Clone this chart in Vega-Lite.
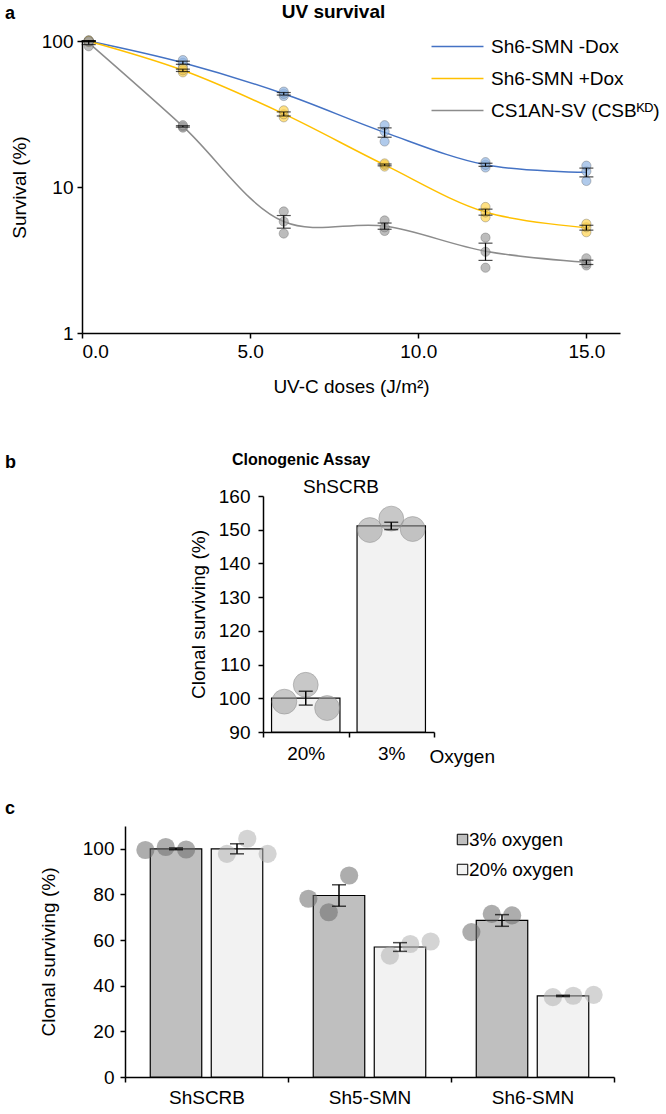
{
  "$schema": "https://vega.github.io/schema/vega-lite/v6.json",
  "padding": {"left": 5, "top": 3, "right": 0, "bottom": 0},
  "background": "white",
  "config": {
    "font": "Liberation Sans",
    "view": {"stroke": null},
    "axis": {"domainColor": "black", "domainWidth": 1.5, "tickColor": "black", "tickWidth": 1.5, "tickSize": 5, "labelColor": "black", "titleColor": "black", "labelFont": "Liberation Sans", "titleFont": "Liberation Sans", "titleFontWeight": "normal", "grid": false, "labelFontSize": 19, "titleFontSize": 19, "labelOverlap": false},
    "legend": {"labelFont": "Liberation Sans", "labelColor": "black"},
    "title": {"font": "Liberation Sans", "color": "black"}
  },
  "datasets": {
    "uv": [
      {"series": "Sh6-SMN -Dox", "dose": 0.2, "value": 99},
      {"series": "Sh6-SMN -Dox", "dose": 0.2, "value": 100},
      {"series": "Sh6-SMN -Dox", "dose": 0.2, "value": 101},
      {"series": "Sh6-SMN -Dox", "dose": 3, "value": 68},
      {"series": "Sh6-SMN -Dox", "dose": 3, "value": 71},
      {"series": "Sh6-SMN -Dox", "dose": 3, "value": 74},
      {"series": "Sh6-SMN -Dox", "dose": 6, "value": 42},
      {"series": "Sh6-SMN -Dox", "dose": 6, "value": 43.5},
      {"series": "Sh6-SMN -Dox", "dose": 6, "value": 45},
      {"series": "Sh6-SMN -Dox", "dose": 9, "value": 20.5},
      {"series": "Sh6-SMN -Dox", "dose": 9, "value": 24},
      {"series": "Sh6-SMN -Dox", "dose": 9, "value": 26.5},
      {"series": "Sh6-SMN -Dox", "dose": 12, "value": 13.6},
      {"series": "Sh6-SMN -Dox", "dose": 12, "value": 14.2},
      {"series": "Sh6-SMN -Dox", "dose": 12, "value": 14.8},
      {"series": "Sh6-SMN -Dox", "dose": 15, "value": 11.0},
      {"series": "Sh6-SMN -Dox", "dose": 15, "value": 12.8},
      {"series": "Sh6-SMN -Dox", "dose": 15, "value": 14.0},
      {"series": "Sh6-SMN +Dox", "dose": 0.2, "value": 98},
      {"series": "Sh6-SMN +Dox", "dose": 0.2, "value": 100},
      {"series": "Sh6-SMN +Dox", "dose": 0.2, "value": 101},
      {"series": "Sh6-SMN +Dox", "dose": 3, "value": 61},
      {"series": "Sh6-SMN +Dox", "dose": 3, "value": 63},
      {"series": "Sh6-SMN +Dox", "dose": 3, "value": 65},
      {"series": "Sh6-SMN +Dox", "dose": 6, "value": 30},
      {"series": "Sh6-SMN +Dox", "dose": 6, "value": 31.5},
      {"series": "Sh6-SMN +Dox", "dose": 6, "value": 33.5},
      {"series": "Sh6-SMN +Dox", "dose": 9, "value": 13.8},
      {"series": "Sh6-SMN +Dox", "dose": 9, "value": 14.2},
      {"series": "Sh6-SMN +Dox", "dose": 9, "value": 14.5},
      {"series": "Sh6-SMN +Dox", "dose": 12, "value": 6.2},
      {"series": "Sh6-SMN +Dox", "dose": 12, "value": 6.7},
      {"series": "Sh6-SMN +Dox", "dose": 12, "value": 7.3},
      {"series": "Sh6-SMN +Dox", "dose": 15, "value": 4.9},
      {"series": "Sh6-SMN +Dox", "dose": 15, "value": 5.3},
      {"series": "Sh6-SMN +Dox", "dose": 15, "value": 5.6},
      {"series": "CS1AN-SV (CSBᴷᴰ)", "dose": 0.2, "value": 92},
      {"series": "CS1AN-SV (CSBᴷᴰ)", "dose": 0.2, "value": 99},
      {"series": "CS1AN-SV (CSBᴷᴰ)", "dose": 0.2, "value": 100},
      {"series": "CS1AN-SV (CSBᴷᴰ)", "dose": 3, "value": 25.5},
      {"series": "CS1AN-SV (CSBᴷᴰ)", "dose": 3, "value": 26},
      {"series": "CS1AN-SV (CSBᴷᴰ)", "dose": 3, "value": 26.5},
      {"series": "CS1AN-SV (CSBᴷᴰ)", "dose": 6, "value": 4.8},
      {"series": "CS1AN-SV (CSBᴷᴰ)", "dose": 6, "value": 5.8},
      {"series": "CS1AN-SV (CSBᴷᴰ)", "dose": 6, "value": 6.8},
      {"series": "CS1AN-SV (CSBᴷᴰ)", "dose": 9, "value": 5.0},
      {"series": "CS1AN-SV (CSBᴷᴰ)", "dose": 9, "value": 5.3},
      {"series": "CS1AN-SV (CSBᴷᴰ)", "dose": 9, "value": 5.9},
      {"series": "CS1AN-SV (CSBᴷᴰ)", "dose": 12, "value": 2.8},
      {"series": "CS1AN-SV (CSBᴷᴰ)", "dose": 12, "value": 3.6},
      {"series": "CS1AN-SV (CSBᴷᴰ)", "dose": 12, "value": 4.5},
      {"series": "CS1AN-SV (CSBᴷᴰ)", "dose": 15, "value": 2.9},
      {"series": "CS1AN-SV (CSBᴷᴰ)", "dose": 15, "value": 3.0},
      {"series": "CS1AN-SV (CSBᴷᴰ)", "dose": 15, "value": 3.25}
    ],
    "clono": [
      {"oxygen": "20%", "rep": "1", "value": 99.0},
      {"oxygen": "20%", "rep": "2", "value": 104.0},
      {"oxygen": "20%", "rep": "3", "value": 97.1},
      {"oxygen": "3%", "rep": "1", "value": 149.9},
      {"oxygen": "3%", "rep": "2", "value": 153.3},
      {"oxygen": "3%", "rep": "3", "value": 150.2}
    ],
    "groups": [
      {"group": "ShSCRB", "oxygen": "3%", "slot": "3%-1", "value": 99.5},
      {"group": "ShSCRB", "oxygen": "3%", "slot": "3%-2", "value": 100.8},
      {"group": "ShSCRB", "oxygen": "3%", "slot": "3%-3", "value": 99.7},
      {"group": "ShSCRB", "oxygen": "20%", "slot": "20%-1", "value": 97.8},
      {"group": "ShSCRB", "oxygen": "20%", "slot": "20%-2", "value": 104.4},
      {"group": "ShSCRB", "oxygen": "20%", "slot": "20%-3", "value": 97.8},
      {"group": "Sh5-SMN", "oxygen": "3%", "slot": "3%-1", "value": 78.1},
      {"group": "Sh5-SMN", "oxygen": "3%", "slot": "3%-2", "value": 72.2},
      {"group": "Sh5-SMN", "oxygen": "3%", "slot": "3%-3", "value": 88.3},
      {"group": "Sh5-SMN", "oxygen": "20%", "slot": "20%-1", "value": 53.2},
      {"group": "Sh5-SMN", "oxygen": "20%", "slot": "20%-2", "value": 58.3},
      {"group": "Sh5-SMN", "oxygen": "20%", "slot": "20%-3", "value": 59.4},
      {"group": "Sh6-SMN", "oxygen": "3%", "slot": "3%-1", "value": 63.5},
      {"group": "Sh6-SMN", "oxygen": "3%", "slot": "3%-2", "value": 71.5},
      {"group": "Sh6-SMN", "oxygen": "3%", "slot": "3%-3", "value": 70.8},
      {"group": "Sh6-SMN", "oxygen": "20%", "slot": "20%-1", "value": 35.0},
      {"group": "Sh6-SMN", "oxygen": "20%", "slot": "20%-2", "value": 35.6},
      {"group": "Sh6-SMN", "oxygen": "20%", "slot": "20%-3", "value": 36.0}
    ]
  },
  "spacing": 56,
  "resolve": {"scale": {"color": "independent", "fill": "independent", "xOffset": "independent"}, "legend": {"color": "independent", "fill": "independent"}},
  "vconcat": [
    {
      "title": {"text": "a", "anchor": "start", "frame": "bounds", "fontSize": 18, "fontWeight": "bold", "offset": 0, "dy": 20},
      "vconcat": [
        {
          "width": 615,
          "height": 292,
          "title": {"text": "UV survival", "fontSize": 19, "fontWeight": "bold", "anchor": "middle", "dx": 21, "offset": 10},
          "data": {"name": "uv"},
          "layer": [
            {
              "mark": {"type": "line", "interpolate": "catmull-rom", "strokeWidth": 1.5},
              "encoding": {
                "x": {"field": "dose", "type": "quantitative", "title": "UV-C doses (J/m²)", "scale": {"domain": [0, 16], "range": [77, 615], "nice": false}, "axis": {"values": [0, 5, 10, 15], "format": ".1f", "labelPadding": 4, "titlePadding": 16}},
                "y": {"aggregate": "mean", "field": "value", "type": "quantitative", "title": "Survival (%)", "scale": {"type": "log", "domain": [1, 100]}, "axis": {"values": [1, 10, 100], "format": "d", "offset": -77, "labelPadding": 4, "titlePadding": 12}},
                "color": {"field": "series", "type": "nominal", "scale": {"domain": ["Sh6-SMN -Dox", "Sh6-SMN +Dox", "CS1AN-SV (CSBᴷᴰ)"], "range": ["#4472C4", "#FFC000", "#8C8C8C"]}, "legend": {"title": null, "orient": "none", "legendX": 443, "legendY": -4, "symbolType": "M-3,0H3", "symbolSize": 300, "symbolStrokeWidth": 1.5, "labelFontSize": 19, "labelOffset": 24, "rowPadding": 12, "padding": 0, "labelLimit": 300}}
              }
            },
            {
              "mark": {"type": "circle", "size": 85, "fillOpacity": 0.7, "stroke": "#555555", "strokeWidth": 0.7, "strokeOpacity": 0.5},
              "encoding": {
                "x": {"field": "dose", "type": "quantitative", "title": "UV-C doses (J/m²)"},
                "y": {"field": "value", "type": "quantitative", "title": "Survival (%)"},
                "fill": {"field": "series", "type": "nominal", "scale": {"domain": ["Sh6-SMN -Dox", "Sh6-SMN +Dox", "CS1AN-SV (CSBᴷᴰ)"], "range": ["#8FB4E3", "#FFD34D", "#A0A0A0"]}, "legend": null}
              }
            },
            {
              "mark": {"type": "errorbar", "extent": "stderr", "orient": "vertical", "color": "black", "thickness": 1.2, "ticks": {"size": 14, "thickness": 1.2, "color": "black"}},
              "encoding": {
                "x": {"field": "dose", "type": "quantitative", "title": "UV-C doses (J/m²)"},
                "y": {"field": "value", "type": "quantitative", "title": "Survival (%)"},
                "detail": {"field": "series", "type": "nominal"}
              }
            }
          ]
        }
      ]
    },
    {
      "spacing": 34,
      "resolve": {"scale": {"color": "independent", "fill": "independent", "xOffset": "independent"}, "legend": {"color": "independent", "fill": "independent"}},
      "vconcat": [
        {
          "title": {"text": "b", "anchor": "start", "frame": "bounds", "fontSize": 18, "fontWeight": "bold", "offset": 0, "dy": 20},
          "vconcat": [
            {
              "title": {"text": "Clonogenic Assay", "anchor": "start", "frame": "bounds", "fontSize": 16, "fontWeight": "bold", "dx": 227, "offset": 10},
              "vconcat": [
                {
                  "width": 429,
                  "height": 236,
                  "title": {"text": "ShSCRB", "anchor": "start", "frame": "group", "fontSize": 19, "fontWeight": "normal", "dx": 298, "offset": -10},
                  "data": {"name": "clono"},
                  "resolve": {"scale": {"xOffset": "independent"}},
                  "layer": [
                    {
                      "mark": {"type": "bar", "fill": "#f2f2f2", "stroke": "black", "strokeWidth": 1.2, "width": {"band": 0.8}, "clip": true},
                      "encoding": {
                        "x": {"field": "oxygen", "type": "nominal", "sort": ["20%", "3%"], "title": "Oxygen", "scale": {"range": [258, 429], "paddingInner": 0, "paddingOuter": 0}, "axis": {"labelAngle": 0, "tickBand": "extent", "labelPadding": 7, "titleX": 424, "titleY": 24, "titleAlign": "left", "titleBaseline": "middle", "titleAngle": 0}},
                        "y": {"aggregate": "mean", "field": "value", "type": "quantitative", "title": "Clonal surviving (%)", "scale": {"domain": [90, 160], "zero": false, "nice": false}, "axis": {"values": [90, 100, 110, 120, 130, 140, 150, 160], "tickCount": 8, "labelOverlap": false, "offset": -258, "labelPadding": 8, "titlePadding": 10}}
                      }
                    },
                    {
                      "mark": {"type": "circle", "size": 620, "fill": "#9a9a9a", "fillOpacity": 0.55, "stroke": "#888888", "strokeWidth": 0.8, "strokeOpacity": 0.6},
                      "encoding": {
                        "x": {"field": "oxygen", "type": "nominal", "sort": ["20%", "3%"], "title": "Oxygen"},
                        "xOffset": {"field": "rep", "type": "nominal", "scale": {"type": "point", "padding": 1.5}},
                        "y": {"field": "value", "type": "quantitative", "title": "Clonal surviving (%)", "axis": {"values": [90, 100, 110, 120, 130, 140, 150, 160], "labelOverlap": false}}
                      }
                    },
                    {
                      "mark": {"type": "errorbar", "extent": "stderr", "color": "black", "thickness": 1.5, "ticks": {"size": 14, "thickness": 1.5, "color": "black"}},
                      "encoding": {
                        "x": {"field": "oxygen", "type": "nominal", "sort": ["20%", "3%"], "title": "Oxygen"},
                        "y": {"field": "value", "type": "quantitative", "title": "Clonal surviving (%)"}
                      }
                    }
                  ]
                }
              ]
            }
          ]
        },
        {
          "title": {"text": "c", "anchor": "start", "frame": "bounds", "fontSize": 18, "fontWeight": "bold", "offset": 8},
          "vconcat": [
            {
              "width": 609,
              "height": 251,
              "data": {"name": "groups"},
              "resolve": {"scale": {"xOffset": "independent"}},
              "layer": [
                {
                  "mark": {"type": "bar", "stroke": "black", "strokeWidth": 1.2},
                  "encoding": {
                    "x": {"field": "group", "type": "nominal", "sort": ["ShSCRB", "Sh5-SMN", "Sh6-SMN"], "title": null, "scale": {"range": [120, 609], "paddingInner": 0, "paddingOuter": 0}, "axis": {"labelAngle": 0, "tickBand": "extent", "labelPadding": 6}},
                    "xOffset": {"field": "oxygen", "type": "nominal", "sort": ["3%", "20%"], "scale": {"domain": ["3%", "20%"], "paddingInner": 0.156, "paddingOuter": 0.414}},
                    "y": {"aggregate": "mean", "field": "value", "type": "quantitative", "title": "Clonal surviving (%)", "scale": {"domain": [0, 110], "nice": false}, "axis": {"values": [0, 20, 40, 60, 80, 100], "offset": -120, "labelPadding": 6, "titlePadding": 24}},
                    "fill": {"field": "oxygen", "type": "nominal", "scale": {"domain": ["3%", "20%"], "range": ["#bfbfbf", "#f2f2f2"]}, "legend": {"title": null, "orient": "none", "legendX": 448, "legendY": 4, "symbolType": "square", "symbolSize": 110, "symbolStrokeColor": "black", "symbolStrokeWidth": 1, "symbolOpacity": 1, "labelFontSize": 19, "labelOffset": -3, "rowPadding": 10, "labelExpr": "datum.label + ' oxygen'", "padding": 0}}
                  }
                },
                {
                  "mark": {"type": "circle", "size": 330, "opacity": 0.55},
                  "encoding": {
                    "x": {"field": "group", "type": "nominal", "sort": ["ShSCRB", "Sh5-SMN", "Sh6-SMN"], "title": null},
                    "xOffset": {"field": "slot", "type": "nominal", "scale": {"type": "point", "domain": ["3%-1", "3%-2", "3%-3", "gap", "20%-1", "20%-2", "20%-3"], "padding": 2.43}},
                    "y": {"field": "value", "type": "quantitative", "title": "Clonal surviving (%)"},
                    "color": {"field": "oxygen", "type": "nominal", "scale": {"domain": ["3%", "20%"], "range": ["#6a6a6a", "#b0b0b0"]}, "legend": null}
                  }
                },
                {
                  "mark": {"type": "errorbar", "extent": "stderr", "color": "black", "thickness": 1.5, "ticks": {"size": 14, "thickness": 1.5, "color": "black"}},
                  "encoding": {
                    "x": {"field": "group", "type": "nominal", "sort": ["ShSCRB", "Sh5-SMN", "Sh6-SMN"], "title": null},
                    "xOffset": {"field": "oxygen", "type": "nominal", "sort": ["3%", "20%"], "scale": {"domain": ["3%", "20%"], "paddingInner": 0.156, "paddingOuter": 0.414}},
                    "y": {"field": "value", "type": "quantitative", "title": "Clonal surviving (%)"}
                  }
                }
              ]
            }
          ]
        }
      ]
    }
  ]
}
